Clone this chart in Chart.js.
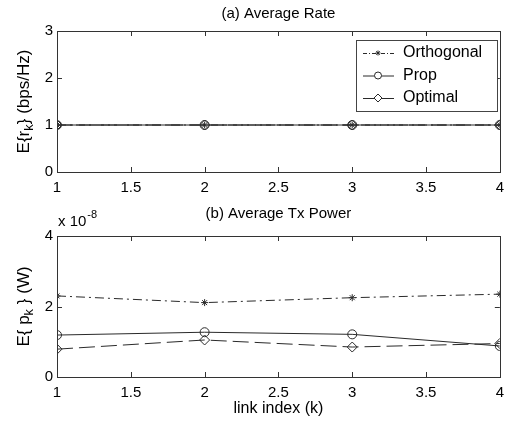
<!DOCTYPE html>
<html>
<head>
<meta charset="utf-8">
<script src="https://cdn.jsdelivr.net/npm/chart.js@4/dist/chart.umd.min.js"></script>
<style>
  body { margin: 0; background: #fff; }
  .box { position: relative; width: 511px; }
</style>
</head>
<body>
<div class="box"><canvas id="rateChart" width="511" height="200"></canvas></div>
<div class="box"><canvas id="powerChart" width="511" height="221"></canvas></div>
<script>
// link index (k)
const links = [1, 2, 3, 4];
// (a) average rate, bps/Hz
const rateOrthogonal = [1, 1, 1, 1];
const rateProp = [1, 1, 1, 1];
const rateOptimal = [1, 1, 1, 1];
// (b) average tx power, in units of 1e-8 W
const powerOrthogonal = [2.30, 2.11, 2.25, 2.35];
const powerProp = [1.19, 1.27, 1.21, 0.88];
const powerOptimal = [0.79, 1.05, 0.85, 0.95];
// tick labels
const xTicks = [1, 1.5, 2, 2.5, 3, 3.5, 4];
const rateTicks = [0, 1, 2, 3];
const powerTicks = [0, 2, 4];

const FONT = "'Liberation Sans', Arial, sans-serif";
const INK = "#000";

Chart.defaults.font.family = FONT;
Chart.defaults.color = INK;

function pts(ys) {
    return links.map((x, i) => ({ x: x, y: ys[i] }));
}

const seriesStyle = {
    orthogonal: { borderDash: [9, 4, 2, 4], pointStyle: "star", pointRadius: 3.5 },
    prop: { borderDash: [], pointStyle: "circle", pointRadius: 4.5 },
    optimal: { borderDash: [16, 6], pointStyle: "rectRot", pointRadius: 5 }
};

function makeSets(o, p, q) {
    const base = {
        borderColor: "#2a2a2a", borderWidth: 1, backgroundColor: "rgba(0,0,0,0)",
        pointBorderColor: "#2a2a2a", pointBackgroundColor: "rgba(0,0,0,0)",
        pointBorderWidth: 1, tension: 0, fill: false
    };
    return [
        Object.assign({ label: "Orthogonal", data: pts(o) }, base, seriesStyle.orthogonal),
        Object.assign({ label: "Prop", data: pts(p) }, base, seriesStyle.prop),
        Object.assign({ label: "Optimal", data: pts(q) }, base, seriesStyle.optimal)
    ];
}

// draws text pieces, some of them subscript/superscript
function drawParts(ctx, parts, size) {
    let w = 0;
    parts.forEach(p => {
        ctx.font = (p.small ? size - 4 : size) + "px " + FONT;
        p.w = ctx.measureText(p.t).width;
        w += p.w;
    });
    let x = -w / 2;
    parts.forEach(p => {
        ctx.font = (p.small ? size - 4 : size) + "px " + FONT;
        ctx.fillText(p.t, x, p.dy || 0);
        x += p.w;
    });
}

// frame, inward ticks, titles
function framePlugin(cfg) {
    return {
        id: "frame",
        afterDraw(chart) {
            const ctx = chart.ctx;
            const a = chart.chartArea;
            const xs = chart.scales.x, ys = chart.scales.y;
            ctx.save();
            ctx.strokeStyle = "#333";
            ctx.lineWidth = 1;
            ctx.strokeRect(Math.round(a.left) + 0.5, Math.round(a.top) + 0.5,
                Math.round(a.right - a.left), Math.round(a.bottom - a.top));
            ctx.beginPath();
            xs.ticks.forEach(t => {
                const px = Math.round(xs.getPixelForValue(t.value)) + 0.5;
                ctx.moveTo(px, a.bottom); ctx.lineTo(px, a.bottom - 5);
                ctx.moveTo(px, a.top); ctx.lineTo(px, a.top + 5);
            });
            ys.ticks.forEach(t => {
                const py = Math.round(ys.getPixelForValue(t.value)) + 0.5;
                ctx.moveTo(a.left, py); ctx.lineTo(a.left + 5, py);
                ctx.moveTo(a.right, py); ctx.lineTo(a.right - 5, py);
            });
            ctx.stroke();

            ctx.fillStyle = INK;
            ctx.textBaseline = "middle";
            ctx.textAlign = "left";
            ctx.save();
            ctx.translate((a.left + a.right) / 2, cfg.titleY);
            drawParts(ctx, [{ t: cfg.title }], 15);
            ctx.restore();

            ctx.save();
            ctx.translate(24, (a.top + a.bottom) / 2);
            ctx.rotate(-Math.PI / 2);
            drawParts(ctx, cfg.yLabel, 17);
            ctx.restore();

            if (cfg.xLabel) {
                ctx.save();
                ctx.translate((a.left + a.right) / 2, cfg.xLabelY);
                drawParts(ctx, [{ t: cfg.xLabel }], 16);
                ctx.restore();
            }
            if (cfg.exponent) {
                ctx.font = "15px " + FONT;
                ctx.fillText("x 10", a.left + 1, cfg.exponentY);
                const w = ctx.measureText("x 10").width;
                ctx.font = "11px " + FONT;
                ctx.fillText(cfg.exponent, a.left + 2 + w, cfg.exponentY - 7);
            }
            ctx.restore();
        }
    };
}

// legend box inside top axes
const legendPlugin = {
    id: "boxLegend",
    afterDraw(chart) {
        const ctx = chart.ctx;
        const x0 = 356, y0 = 40, w = 141, h = 71;
        ctx.save();
        ctx.fillStyle = "#fff";
        ctx.fillRect(x0, y0, w, h);
        ctx.strokeStyle = "#444";
        ctx.lineWidth = 1;
        ctx.strokeRect(x0 + 0.5, y0 + 0.5, w, h);
        const dashes = [[4, 2, 1, 2], [], []];
        chart.data.datasets.forEach((ds, i) => {
            const y = y0 + 13 + i * 22.5;
            ctx.strokeStyle = "#2a2a2a";
            ctx.setLineDash(dashes[i]);
            ctx.beginPath();
            ctx.moveTo(x0 + 7, y + 0.5);
            ctx.lineTo(x0 + 38, y + 0.5);
            ctx.stroke();
            ctx.setLineDash([]);
            ctx.fillStyle = "#fff";
            Chart.helpers.drawPoint(ctx, {
                pointStyle: ds.pointStyle, radius: ds.pointRadius - 1, rotation: 0, borderWidth: 1
            }, x0 + 22, y);
            ctx.fillStyle = INK;
            ctx.font = "16px " + FONT;
            ctx.textBaseline = "middle";
            ctx.fillText(ds.label, x0 + 47, y);
        });
        ctx.restore();
    }
};

function scales(yMin, yMax, yTicks, xPad) {
    return {
        x: {
            type: "linear", min: 1, max: 4,
            afterBuildTicks: s => { s.ticks = xTicks.map(v => ({ value: v })); },
            afterFit: s => { s.height = xPad; },
            grid: { display: false, drawTicks: false },
            border: { display: false },
            ticks: { padding: 7, font: { size: 15 }, color: INK, callback: v => String(v) }
        },
        y: {
            min: yMin, max: yMax,
            afterBuildTicks: s => { s.ticks = yTicks.map(v => ({ value: v })); },
            afterFit: s => { s.width = 57; },
            grid: { display: false, drawTicks: false },
            border: { display: false },
            ticks: { padding: 4, font: { size: 15 }, color: INK, callback: v => String(v) }
        }
    };
}

new Chart(document.getElementById("rateChart"), {
    type: "line",
    data: { datasets: makeSets(rateOrthogonal, rateProp, rateOptimal) },
    options: {
        responsive: false, animation: false,
        layout: { padding: { left: 0, right: 9, top: 31, bottom: 0 } },
        plugins: { legend: { display: false }, tooltip: { enabled: false } },
        scales: scales(0, 3, rateTicks, 28)
    },
    plugins: [framePlugin({
        title: "(a) Average Rate", titleY: 14,
        yLabel: [{ t: "E{r" }, { t: "k", small: true, dy: 5 }, { t: "} (bps/Hz)" }]
    }), legendPlugin]
});

new Chart(document.getElementById("powerChart"), {
    type: "line",
    data: { datasets: makeSets(powerOrthogonal, powerProp, powerOptimal) },
    options: {
        responsive: false, animation: false,
        layout: { padding: { left: 0, right: 9, top: 36, bottom: 0 } },
        plugins: { legend: { display: false }, tooltip: { enabled: false } },
        scales: scales(0, 4, powerTicks, 44)
    },
    plugins: [framePlugin({
        title: "(b) Average Tx Power", titleY: 14,
        yLabel: [{ t: "E{ p" }, { t: "k", small: true, dy: 5 }, { t: " } (W)" }],
        xLabel: "link index (k)", xLabelY: 209,
        exponent: "-8", exponentY: 22
    })]
});
</script>
</body>
</html>
